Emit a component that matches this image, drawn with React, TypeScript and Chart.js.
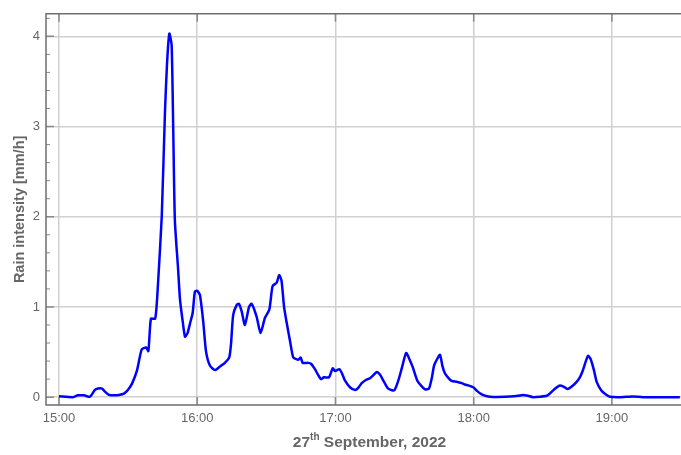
import React, { useEffect, useRef } from "react";
import { Chart, registerables } from "chart.js";

Chart.register(...registerables);

// Minutes elapsed since 15:00 on 27 September 2022
const minutes = [
  0, 6.1, 8.2, 10.9, 13.5, 15.6, 16.9, 18.7, 20.0, 21.7, 23.9, 26.0, 28.2, 29.9,
  31.7, 33.9, 35.9, 37.8, 38.8, 39.9, 41.7, 42.4, 43.1, 44.6, 46.0, 46.9, 47.9,
  48.9, 49.6, 50.3, 51.7, 52.5, 53.7, 54.7, 55.8, 56.9, 58.0, 59.0, 60.0, 61.2,
  62.6, 63.8, 65.5, 67.7, 69.9, 72.0, 73.9, 74.7, 75.6, 77.1, 78.1, 79.3, 80.7,
  82.5, 83.6, 85.8, 87.5, 89.4, 91.3, 92.7, 94.5, 95.6, 96.6, 97.7, 98.8, 100.3,
  101.7, 103.9, 104.9, 105.8, 108.2, 109.4, 111.1, 112.4, 113.7, 115.0, 117.2,
  118.8, 119.8, 121.7, 122.9, 124.1, 126.3, 128.5, 129.8, 131.4, 133.2, 135.0,
  136.7, 138.0, 139.3, 141.1, 142.9, 145.5, 147.3, 148.9, 150.7, 152.3, 153.6,
  155.5, 157.1, 158.9, 160.6, 161.9, 162.8, 164.1, 165.4, 166.4, 167.5, 168.8,
  170.4, 172.6, 174.8, 176.2, 177.6, 179.8, 181.4, 183.5, 185.8, 188.4, 195.7,
  199.2, 201.4, 203.6, 205.7, 208.8, 211.7, 213.1, 214.5, 216.1, 217.4, 219.2,
  220.8, 222.7, 224.7, 226.1, 227.3, 228.7, 229.7, 230.8, 232.2, 233.4, 235.5,
  237.4, 239.2, 243.5, 249.1, 253.5, 269.5,
];

// Rain intensity in mm/h
const intensity = [
  0.01, 0.0, 0.02, 0.02, 0.005, 0.08, 0.095, 0.095, 0.06, 0.025, 0.02, 0.025,
  0.04, 0.08, 0.15, 0.3, 0.53, 0.55, 0.51, 0.87, 0.87, 1.02, 1.31, 2.0, 3.16,
  3.7, 4.03, 3.9, 2.95, 1.96, 1.42, 1.09, 0.84, 0.67, 0.71, 0.82, 0.93, 1.17,
  1.18, 1.13, 0.84, 0.51, 0.35, 0.3, 0.34, 0.38, 0.44, 0.6, 0.91, 1.02, 1.035,
  0.95, 0.8, 1.0, 1.035, 0.89, 0.71, 0.88, 0.97, 1.23, 1.27, 1.355, 1.29, 1.0,
  0.83, 0.62, 0.44, 0.415, 0.44, 0.38, 0.38, 0.37, 0.31, 0.25, 0.2, 0.22, 0.22,
  0.32, 0.29, 0.31, 0.26, 0.185, 0.11, 0.08, 0.1, 0.155, 0.19, 0.21, 0.25, 0.28,
  0.25, 0.17, 0.095, 0.075, 0.185, 0.33, 0.49, 0.41, 0.33, 0.185, 0.13, 0.087,
  0.095, 0.22, 0.35, 0.42, 0.47, 0.35, 0.265, 0.22, 0.18, 0.17, 0.155, 0.14,
  0.13, 0.11, 0.07, 0.03, 0.01, 0.003, 0.008, 0.015, 0.025, 0.015, 0.0, 0.005,
  0.015, 0.04, 0.075, 0.11, 0.13, 0.115, 0.09, 0.12, 0.17, 0.22, 0.29, 0.4,
  0.46, 0.42, 0.3, 0.17, 0.07, 0.03, 0.005, 0.0, 0.008, 0.0, 0.0,
];

const xTickMinutes = [0, 60, 120, 180, 240];
const xTickLabels = ["15:00", "16:00", "17:00", "18:00", "19:00"];
const yTickValues = [0, 1, 2, 3, 4];

const FONT = "'Liberation Sans', Arial, Helvetica, sans-serif";
const TEXT_GREY = "#666666";
const FRAME_GREY = "#6e6e6e";

// Frame, inward tick marks and the two axis titles
const framePlugin = {
  id: "frameAndTitles",
  beforeDatasetsDraw(chart: any) {
    const { ctx, chartArea: a, scales } = chart;
    const x = scales.x;
    const y = scales.y;
    ctx.save();
    ctx.strokeStyle = "#8a8a8a";
    ctx.lineWidth = 1.5;
    ctx.beginPath();
    for (const m of xTickMinutes) {
      const px = x.getPixelForValue(m);
      ctx.moveTo(px, a.bottom);
      ctx.lineTo(px, a.bottom - 8);
      ctx.moveTo(px, a.top);
      ctx.lineTo(px, a.top + 8);
    }
    for (const v of yTickValues) {
      const py = y.getPixelForValue(v);
      ctx.moveTo(a.left, py);
      ctx.lineTo(a.left + 8, py);
    }
    ctx.stroke();
    ctx.lineWidth = 1;
    ctx.beginPath();
    for (let v = 0.2; v < 4.25; v += 0.2) {
      if (Math.abs(v - Math.round(v)) < 0.01) continue;
      const py = y.getPixelForValue(v);
      ctx.moveTo(a.left, py);
      ctx.lineTo(a.left + 4, py);
    }
    ctx.stroke();

    ctx.strokeStyle = FRAME_GREY;
    ctx.lineWidth = 1.5;
    ctx.beginPath();
    ctx.moveTo(a.right, a.top);
    ctx.lineTo(a.left, a.top);
    ctx.lineTo(a.left, a.bottom);
    ctx.lineTo(a.right, a.bottom);
    ctx.stroke();
    ctx.restore();
  },
  afterDraw(chart: any) {
    const { ctx, chartArea: a } = chart;
    ctx.save();
    ctx.fillStyle = TEXT_GREY;

    // vertical axis title
    ctx.translate(20, (a.top + a.bottom) / 2);
    ctx.rotate(-Math.PI / 2);
    ctx.font = `bold 14.5px ${FONT}`;
    ctx.textAlign = "center";
    ctx.textBaseline = "middle";
    ctx.fillText("Rain intensity [mm/h]", 0, 0);
    ctx.restore();

    // horizontal axis title with superscript ordinal
    ctx.save();
    ctx.fillStyle = TEXT_GREY;
    ctx.textAlign = "left";
    ctx.textBaseline = "alphabetic";
    const big = `bold 15.5px ${FONT}`;
    const small = `bold 10px ${FONT}`;
    const p1 = "27";
    const p2 = "th";
    const p3 = " September, 2022";
    ctx.font = big;
    const w1 = ctx.measureText(p1).width;
    const w3 = ctx.measureText(p3).width;
    ctx.font = small;
    const w2 = ctx.measureText(p2).width;
    const total = w1 + w2 + w3;
    let sx = (a.left + a.right) / 2 + 6 - total / 2;
    const base = 447;
    ctx.font = big;
    ctx.fillText(p1, sx, base);
    sx += w1;
    ctx.font = small;
    ctx.fillText(p2, sx, base - 7);
    sx += w2;
    ctx.font = big;
    ctx.fillText(p3, sx, base);
    ctx.restore();
  },
};

export default function App() {
  const canvasRef = useRef<HTMLCanvasElement | null>(null);

  useEffect(() => {
    document.body.style.margin = "0";
    const canvas = canvasRef.current;
    if (!canvas) return;
    const points = minutes.map((m, i) => ({ x: m, y: intensity[i] }));
    const chart = new Chart(canvas, {
      type: "line",
      data: {
        datasets: [
          {
            data: points,
            borderColor: "#0000ff",
            borderWidth: 2.5,
            pointRadius: 0,
            tension: 0.2,
            fill: false,
          },
        ],
      },
      options: {
        animation: false,
        responsive: false,
        devicePixelRatio: 1,
        layout: { padding: { top: 6, right: 0, left: 0, bottom: 0 } },
        plugins: {
          legend: { display: false },
          tooltip: { enabled: false },
        },
        scales: {
          x: {
            type: "linear",
            min: -5.64,
            max: 270,
            afterFit: (s: any) => {
              s.height = 50;
            },
            afterBuildTicks: (s: any) => {
              s.ticks = xTickMinutes.map((v) => ({ value: v }));
            },
            ticks: {
              padding: 6,
              color: TEXT_GREY,
              font: { family: FONT, size: 13 },
              maxRotation: 0,
              callback: (v: any) => {
                const i = xTickMinutes.indexOf(Number(v));
                return i >= 0 ? xTickLabels[i] : "";
              },
            },
            grid: { color: "#d0d0d0", lineWidth: 1.5, drawTicks: false },
            border: { display: false },
          },
          y: {
            type: "linear",
            min: -0.087,
            max: 4.25,
            afterFit: (s: any) => {
              s.width = 46;
            },
            afterBuildTicks: (s: any) => {
              s.ticks = yTickValues.map((v) => ({ value: v }));
            },
            ticks: {
              padding: 6,
              color: TEXT_GREY,
              font: { family: FONT, size: 13 },
              callback: (v: any) => String(v),
            },
            grid: { color: "#d0d0d0", lineWidth: 1.5, drawTicks: false },
            border: { display: false },
          },
        },
      },
      plugins: [framePlugin],
    });
    return () => chart.destroy();
  }, []);

  return (
    <div style={{ position: "fixed", left: 0, top: 0, width: 681, height: 455 }}>
      <canvas ref={canvasRef} width={681} height={455} />
    </div>
  );
}
